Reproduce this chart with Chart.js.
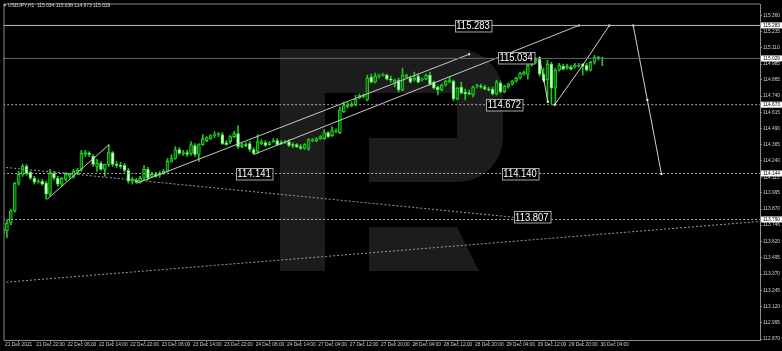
<!DOCTYPE html>
<html><head><meta charset="utf-8">
<style>html,body{margin:0;padding:0;background:#000;overflow:hidden}canvas{display:block}</style>
<script src="https://cdn.jsdelivr.net/npm/chart.js@4.4.0/dist/chart.umd.min.js"></script>
</head><body>
<canvas id="c" width="782" height="351"></canvas>
<script>
const symbolTitle = 'USDJPY,H1  115.034 115.038 114.973 115.029';

const openPrices = [
113.687,113.702,113.763,113.855,114.069,114.137,114.198,114.153,114.107,114.076,
114.084,114.069,113.985,114.145,114.107,114.061,114.099,114.122,114.115,114.145,
114.176,114.290,114.298,114.275,114.198,114.221,114.176,114.214,114.305,114.214,
114.206,114.206,114.168,114.084,114.092,114.076,114.107,114.176,114.122,114.137,
114.130,114.145,114.160,114.237,114.260,114.328,114.298,114.305,114.298,114.359,
114.290,114.366,114.397,114.412,114.435,114.443,114.443,114.382,114.389,114.427,
114.450,114.351,114.366,114.374,114.328,114.313,114.374,114.382,114.366,114.389,
114.397,114.382,114.382,114.389,114.366,114.366,114.351,114.336,114.336,114.397,
114.397,114.412,114.412,114.458,114.435,114.466,114.458,114.618,114.656,114.664,
114.672,114.725,114.733,114.710,114.885,114.847,114.893,114.901,114.901,114.870,
114.847,114.863,114.786,114.885,114.878,114.863,114.893,114.863,114.870,114.901,
114.847,114.809,114.786,114.824,114.847,114.855,114.717,114.809,114.771,114.763,
114.748,114.817,114.817,114.809,114.794,114.794,114.756,114.840,114.771,114.809,
114.832,114.855,114.878,114.908,114.908,114.977,115.000,115.023,114.908,114.863,
114.985,114.801,114.939,114.969,114.954,114.962,114.962,114.969,114.977,114.977,
114.939,115.000,115.023,115.034];

const highPrices = [
113.733,113.786,113.870,114.076,114.160,114.214,114.214,114.160,114.122,114.099,
114.099,114.084,114.176,114.160,114.122,114.115,114.153,114.145,114.176,114.183,
114.321,114.321,114.313,114.290,114.252,114.237,114.214,114.366,114.313,114.237,
114.229,114.221,114.183,114.115,114.107,114.122,114.206,114.191,114.153,114.153,
114.160,114.176,114.260,114.290,114.351,114.343,114.321,114.321,114.389,114.374,
114.374,114.443,114.427,114.443,114.466,114.458,114.458,114.397,114.435,114.466,
114.511,114.382,114.382,114.389,114.343,114.443,114.405,114.397,114.389,114.412,
114.412,114.397,114.397,114.405,114.382,114.374,114.366,114.374,114.412,114.412,
114.420,114.435,114.481,114.466,114.504,114.488,114.656,114.695,114.687,114.695,
114.748,114.756,114.756,114.901,114.908,114.916,114.908,114.916,114.908,114.893,
114.870,114.878,114.954,114.908,114.893,114.924,114.908,114.878,114.908,114.924,
114.855,114.817,114.832,114.863,114.885,114.863,114.809,114.847,114.794,114.786,
114.817,114.832,114.832,114.824,114.809,114.809,114.863,114.855,114.824,114.840,
114.863,114.885,114.924,114.931,114.985,115.008,115.034,115.031,114.954,115.015,
115.000,114.954,114.992,114.985,114.985,114.977,114.992,114.992,114.992,114.992,
115.008,115.053,115.046,115.038];

const lowPrices = [
113.664,113.649,113.748,113.847,114.053,114.122,114.130,114.099,114.061,114.069,
114.053,113.947,113.969,114.092,114.046,114.046,114.084,114.107,114.107,114.137,
114.160,114.275,114.275,114.198,114.160,114.168,114.122,114.198,114.198,114.191,
114.183,114.153,114.069,114.061,114.069,114.069,114.092,114.092,114.115,114.115,
114.115,114.137,114.153,114.229,114.252,114.290,114.282,114.275,114.282,114.275,
114.237,114.359,114.389,114.405,114.420,114.427,114.366,114.359,114.374,114.420,
114.336,114.343,114.351,114.313,114.290,114.298,114.366,114.351,114.359,114.382,
114.359,114.366,114.374,114.351,114.343,114.343,114.328,114.328,114.321,114.389,
114.389,114.405,114.405,114.420,114.427,114.458,114.450,114.611,114.649,114.656,
114.664,114.717,114.725,114.702,114.840,114.840,114.878,114.893,114.863,114.847,
114.809,114.771,114.779,114.878,114.840,114.855,114.840,114.855,114.863,114.824,
114.794,114.748,114.779,114.817,114.840,114.702,114.710,114.756,114.710,114.748,
114.733,114.801,114.801,114.786,114.779,114.748,114.748,114.763,114.763,114.801,
114.824,114.847,114.870,114.901,114.870,114.969,114.992,114.893,114.847,114.695,
114.680,114.672,114.931,114.939,114.947,114.939,114.954,114.962,114.901,114.931,
114.931,114.985,115.015,114.973];

const closePrices = [
113.717,113.763,113.855,114.069,114.137,114.198,114.145,114.107,114.076,114.084,
114.061,113.985,114.145,114.107,114.061,114.107,114.137,114.137,114.160,114.168,
114.298,114.305,114.290,114.214,114.221,114.176,114.214,114.305,114.214,114.206,
114.198,114.168,114.084,114.099,114.076,114.107,114.176,114.107,114.137,114.122,
114.145,114.160,114.237,114.260,114.328,114.298,114.305,114.290,114.366,114.290,
114.366,114.412,114.420,114.435,114.443,114.450,114.374,114.366,114.427,114.450,
114.351,114.366,114.359,114.328,114.298,114.389,114.389,114.359,114.382,114.397,
114.366,114.374,114.389,114.359,114.359,114.351,114.336,114.366,114.405,114.405,
114.412,114.427,114.458,114.427,114.473,114.473,114.634,114.672,114.672,114.679,
114.717,114.748,114.748,114.878,114.847,114.893,114.901,114.908,114.870,114.863,
114.863,114.786,114.901,114.901,114.847,114.878,114.847,114.870,114.901,114.832,
114.801,114.786,114.824,114.855,114.863,114.717,114.801,114.763,114.756,114.756,
114.809,114.824,114.809,114.794,114.786,114.756,114.847,114.771,114.817,114.832,
114.855,114.878,114.916,114.924,114.977,115.000,115.023,114.908,114.863,114.985,
114.801,114.939,114.977,114.947,114.969,114.947,114.977,114.977,114.985,114.939,
115.000,115.038,115.038,115.029];

const timeTickIndex = [0,8,16,24,32,40,48,56,64,72,80,88,96,104,112,120,128,136,144,152];
const timeTickLabels = ['21 Dec 2021','21 Dec 22:00','22 Dec 06:00','22 Dec 14:00','22 Dec 22:00',
  '23 Dec 06:00','23 Dec 14:00','23 Dec 22:00','24 Dec 06:00','24 Dec 14:00','27 Dec 04:00',
  '27 Dec 12:00','27 Dec 20:00','28 Dec 04:00','28 Dec 12:00','28 Dec 20:00','29 Dec 04:00',
  '29 Dec 12:00','29 Dec 20:00','30 Dec 04:00'];

const priceTicks = [115.360,115.235,115.110,114.985,114.865,114.740,114.615,114.490,114.365,114.240,
  114.115,113.995,113.870,113.746,113.620,113.495,113.370,113.245,113.120,112.995,112.870];

const solidLevel = 115.283;
const bidLevel = 115.029;
const dottedLevels = [114.673, 114.144, 113.790];
const axisMarkLevels = [115.283, 115.029, 114.673, 114.144, 113.790];

// trend / forecast lines, in (bar index, price)
const lineSa = [{x:11.3,y:113.947},{x:27.1,y:114.366}];
const lineL1 = [{x:34.2,y:114.069},{x:119.0,y:115.061}];
const lineL2 = [{x:64.0,y:114.290},{x:147.0,y:115.283}];
const lineZ1 = [{x:137.0,y:115.034},{x:138.1,y:114.863},{x:139.1,y:114.695}];
const lineZ2 = [{x:140.8,y:114.672},{x:148.0,y:114.977},{x:154.8,y:115.283}];
const lineForecast = [{x:160.9,y:115.283},{x:164.5,y:114.710},{x:168.1,y:114.140}];
const lineDown = [{x:-0.2,y:114.193},{x:130.4,y:113.807}];
const lineUp = [{x:-0.2,y:113.305},{x:193.4,y:113.775}];

const noteTexts = ['115.283','115.034','114.672','114.141','114.140','113.807'];
const noteX = [120.0,131.0,128.0,64.1,132.0,135.0];
const noteY = [115.283,115.034,114.672,114.141,114.140,113.807];

const X_MIN = 0.25, X_MAX = 193.26, Y_MIN = 112.857, Y_MAX = 115.448;

const bodies = openPrices.map((o,i)=>({x:i, y:[o, closePrices[i]]}));
const wicks = lowPrices.map((l,i)=>({x:i, y:[l, highPrices[i]]}));
const isBull = i => closePrices[i] >= openPrices[i];

const levelLine = v => [{x:-2,y:v},{x:200,y:v}];
const lineDs = (data, color, dash, pts) => ({
  type:'line', data, borderColor:color, borderWidth:1, borderDash:dash||[],
  pointRadius: pts ? 1.4 : 0, pointStyle:'rect', pointBackgroundColor:'#ffffff',
  pointBorderWidth:0, fill:false, tension:0, order:0
});

const logoPlugin = {
  id:'logo',
  beforeDraw(chart){
    const c = chart.ctx;
    c.save(); c.fillStyle = '#000'; c.fillRect(0,0,chart.width,chart.height); c.restore();
  },
  beforeDatasetsDraw(chart){
    const c = chart.ctx, r = 45;
    c.save();
    c.fillStyle = '#1c1c1c';
    c.fillRect(280,49,45,222);
    c.beginPath();
    c.moveTo(325,49); c.lineTo(503-r,49);
    c.arcTo(503,49,503,49+r,r);
    c.lineTo(503,182-r);
    c.arcTo(503,182,503-r,182,r);
    c.lineTo(369,182); c.lineTo(369,138); c.lineTo(457,138); c.lineTo(457,93); c.lineTo(325,93);
    c.closePath(); c.fill();
    c.beginPath();
    c.moveTo(369,227); c.lineTo(457,227); c.lineTo(479,271); c.lineTo(369,271); c.closePath(); c.fill();
    c.restore();
  },
  afterDatasetsDraw(chart){
    const c = chart.ctx, xs = chart.scales.x, ys = chart.scales.y;
    c.save();
    c.font = '10.5px "Liberation Sans", Arial, sans-serif';
    c.textBaseline = 'middle';
    noteTexts.forEach((t,k)=>{
      const px = xs.getPixelForValue(noteX[k]), py = ys.getPixelForValue(noteY[k]);
      const w = 36.5, h = 11.5;
      c.fillStyle = '#000';
      c.fillRect(px-w/2, py-h/2, w, h);
      c.strokeStyle = '#a8a8a8'; c.lineWidth = 1;
      c.strokeRect(Math.round(px-w/2)+0.5, Math.round(py-h/2)+0.5, w, h);
      c.save();
      c.translate(px, py+0.5); c.scale(0.9,1);
      c.fillStyle = '#ffffff'; c.textAlign = 'center';
      c.fillText(t, 0, 0);
      c.restore();
    });
    c.restore();
  },
  afterDraw(chart){
    const c = chart.ctx, ys = chart.scales.y, a = chart.chartArea;
    c.save();
    // frame top & left
    c.strokeStyle = '#8c8c8c'; c.lineWidth = 1;
    c.beginPath(); c.moveTo(a.left, a.top); c.lineTo(a.right, a.top);
    c.moveTo(a.left, a.top); c.lineTo(a.left, a.bottom); c.stroke();
    // axis price marks
    c.font = '4.8px "Liberation Sans", Arial, sans-serif';
    c.textBaseline = 'middle'; c.textAlign = 'left';
    axisMarkLevels.forEach(v=>{
      const py = ys.getPixelForValue(v);
      c.fillStyle = '#ffffff'; c.fillRect(a.right+1, py-3, 21, 6);
      c.fillStyle = '#000000'; c.fillText(v.toFixed(3), a.right+3, py+0.3);
    });
    // header
    c.fillStyle = '#d8d8d8';
    c.beginPath(); c.moveTo(3.2,4.6); c.lineTo(6.4,4.6); c.lineTo(4.8,6.6); c.closePath(); c.fill();
    c.font = '4.9px "Liberation Sans", Arial, sans-serif';
    c.fillText(symbolTitle, 8, 5.3);
    c.restore();
  }
};

new Chart(document.getElementById('c'), {
  type:'bar',
  data:{ datasets:[
    lineDs(levelLine(solidLevel), '#b8b8b8'),
    lineDs(levelLine(bidLevel), '#5f666c'),
    ...dottedLevels.map(v=>lineDs(levelLine(v), '#b0b0b0', [2,2])),
    lineDs(lineDown, '#9a9a9a', [2,2]),
    lineDs(lineUp, '#9a9a9a', [2,2]),
    lineDs(lineSa, '#c8c8c8'),
    lineDs(lineL1, '#c8c8c8', null, false),
    lineDs(lineL2, '#c8c8c8', null, false),
    lineDs(lineZ1, '#d0d0d0', null, true),
    lineDs(lineZ2, '#d0d0d0', null, true),
    lineDs(lineForecast, '#d0d0d0', null, true),
    lineDs([lineL1[1], lineL2[1]], 'rgba(0,0,0,0)', null, true),
    { type:'bar', data:bodies, barThickness:3, grouped:false, borderWidth:1, borderSkipped:false,
      backgroundColor: ctx => isBull(ctx.dataIndex) ? '#0a5a0a' : '#e6ffe6',
      borderColor: ctx => isBull(ctx.dataIndex) ? '#1fd81f' : '#3de83d', order:1 },
    { type:'bar', data:wicks, barThickness:1, grouped:false, borderWidth:0,
      backgroundColor:'#1cc81c', order:2 }
  ]},
  options:{
    responsive:false, animation:false, devicePixelRatio:1,
    layout:{ padding:{ top:1.3, left:1.5, right:0, bottom:0 } },
    plugins:{ legend:{display:false}, tooltip:{enabled:false} },
    scales:{
      x:{ type:'linear', min:X_MIN, max:X_MAX, offset:false,
        afterBuildTicks: s => { s.ticks = timeTickIndex.map(v=>({value:v})); },
        afterFit: s => { s.height = 10.3; },
        grid:{ drawOnChartArea:false, drawTicks:true, tickLength:2, color:'#8c8c8c' },
        border:{ display:true, color:'#8c8c8c' },
        ticks:{ autoSkip:false, maxRotation:0, minRotation:0, align:'start', labelOffset:2, padding:0,
          color:'#d0d0d0', font:{ size:4.8, family:'"Liberation Sans", Arial, sans-serif', lineHeight:1 },
          callback: v => { const k = timeTickIndex.indexOf(v); return k >= 0 ? timeTickLabels[k] : ''; } }
      },
      y:{ type:'linear', position:'right', min:Y_MIN, max:Y_MAX,
        afterBuildTicks: s => { s.ticks = priceTicks.map(v=>({value:v})); },
        afterFit: s => { s.width = 22; },
        grid:{ drawOnChartArea:false, drawTicks:true, tickLength:2, color:'#8c8c8c' },
        border:{ display:true, color:'#8c8c8c' },
        ticks:{ padding:1, color:'#d0d0d0', font:{ size:4.8, family:'"Liberation Sans", Arial, sans-serif', lineHeight:1 },
          callback: v => v.toFixed(3) }
      }
    }
  },
  plugins:[logoPlugin]
});
</script>
</body></html>
